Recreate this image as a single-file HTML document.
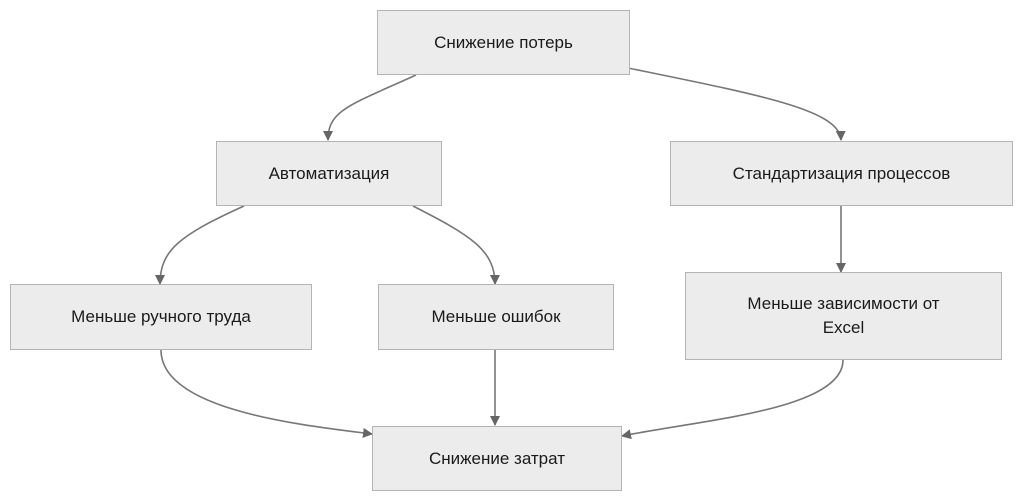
<!DOCTYPE html>
<html><head><meta charset="utf-8"><style>
html,body{margin:0;padding:0;background:#fff;width:1024px;height:502px;overflow:hidden}
.b{position:absolute;background:#ececec;border:1.5px solid #b4b4b4;box-sizing:border-box;display:flex;align-items:center;justify-content:center;text-align:center;font-family:"Liberation Sans",sans-serif;font-size:17px;color:#1a1a1a;line-height:24px}
svg{position:absolute;left:0;top:0}
</style></head><body>
<svg width="1024" height="502">
<defs><marker id="a" markerWidth="10" markerHeight="10" refX="9" refY="5" orient="auto" markerUnits="userSpaceOnUse"><path d="M0,0 L10,5 L0,10 z" fill="#666"/></marker></defs>
<g fill="none" stroke="#777" stroke-width="1.6">
<path d="M416,75 C350,105 328,110 328,140" marker-end="url(#a)"/>
<path d="M628,68 C760,95 840,110 841,140" marker-end="url(#a)"/>
<path d="M244,206 C180,235 160,250 160,284" marker-end="url(#a)"/>
<path d="M413,206 C470,235 495,250 495,284" marker-end="url(#a)"/>
<path d="M841,206 L841,272" marker-end="url(#a)"/>
<path d="M161,350 C161,410 300,425 372,434" marker-end="url(#a)"/>
<path d="M495,350 L495,425" marker-end="url(#a)"/>
<path d="M843,360 C843,410 700,420 622,436" marker-end="url(#a)"/>
</g>
</svg>
<div class="b" style="left:377px;top:10px;width:253px;height:65px">Снижение потерь</div>
<div class="b" style="left:216px;top:141px;width:226px;height:65px">Автоматизация</div>
<div class="b" style="left:670px;top:141px;width:343px;height:65px">Стандартизация процессов</div>
<div class="b" style="left:10px;top:284px;width:302px;height:66px">Меньше ручного труда</div>
<div class="b" style="left:378px;top:284px;width:236px;height:66px">Меньше ошибок</div>
<div class="b" style="left:685px;top:272px;width:317px;height:88px">Меньше зависимости от<br>Excel</div>
<div class="b" style="left:372px;top:426px;width:250px;height:65px">Снижение затрат</div>
</body></html>
